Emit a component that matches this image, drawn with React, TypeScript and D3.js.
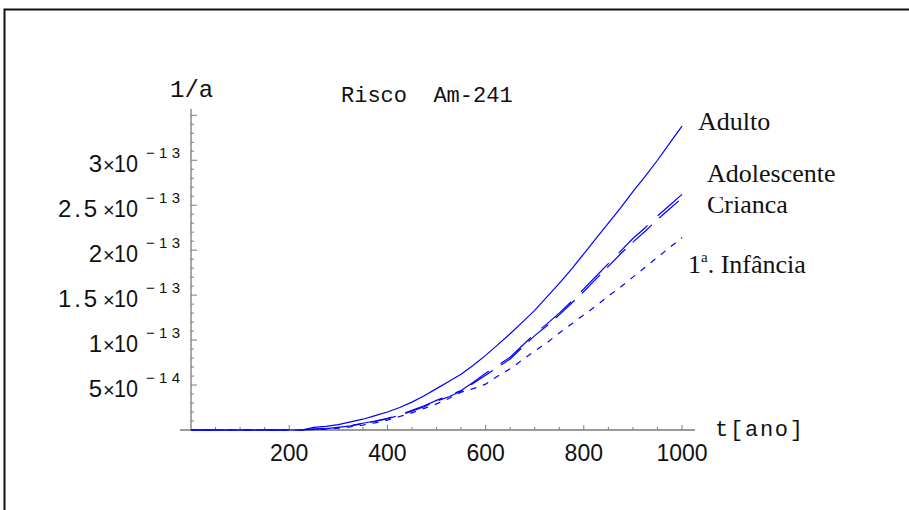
import React from "react";
import * as d3 from "d3";

// time (years)
const years = [0, 200, 225, 250, 275, 300, 325, 350, 375, 400, 425, 450, 475, 500, 525, 550, 575, 600, 625, 650, 675, 700, 725, 750, 775, 800, 825, 850, 875, 900, 925, 950, 975, 1000];
// risk values in units of 1e-14 per year
const adulto = [0, 0, 0, 0.3, 0.4, 0.6, 0.9, 1.2, 1.6, 2.0, 2.5, 3.1, 3.8, 4.6, 5.4, 6.2, 7.2, 8.3, 9.5, 10.7, 12.0, 13.3, 14.8, 16.3, 17.9, 19.6, 21.3, 23.0, 24.7, 26.5, 28.2, 30.0, 31.9, 33.8];
const adolescente = [0, 0, 0, 0.1, 0.15, 0.3, 0.5, 0.75, 1.0, 1.3, 1.7, 2.2, 2.7, 3.3, 3.8, 4.4, 5.3, 6.3, 7.2, 8.1, 9.4, 10.7, 11.8, 13.0, 14.3, 15.7, 17.1, 18.5, 19.9, 21.3, 22.5, 23.8, 25.0, 26.2];
const crianca = [0, 0, 0, 0.1, 0.15, 0.3, 0.45, 0.7, 0.95, 1.25, 1.65, 2.1, 2.6, 3.2, 3.7, 4.3, 5.2, 6.1, 7.0, 7.9, 9.2, 10.5, 11.6, 12.8, 14.1, 15.4, 16.8, 18.2, 19.6, 20.9, 22.1, 23.4, 24.6, 25.8];
const infancia = [0, 0, 0, 0.05, 0.1, 0.2, 0.35, 0.55, 0.8, 1.1, 1.5, 1.9, 2.4, 2.9, 3.5, 4.2, 4.6, 5.1, 6.0, 6.8, 7.8, 8.8, 9.7, 10.8, 11.8, 12.8, 13.8, 14.9, 15.9, 17.0, 18.1, 19.2, 20.3, 21.4];

const xTicks = [200, 400, 600, 800, 1000];
const xMinor = d3.range(50, 1001, 50);
const yTicks = [5, 10, 15, 20, 25, 30];
const yMantissa = ["5", "1", "1.5", "2", "2.5", "3"];
const yExponent = ["\u221214", "\u221213", "\u221213", "\u221213", "\u221213", "\u221213"];
const yMinor = d3.range(1, 36, 1);

const W = 909;
const H = 510;

export default function App() {
  const x = d3.scaleLinear().domain([0, 1000]).range([191, 682]);
  const y = d3.scaleLinear().domain([0, 35.7]).range([430, 109]);
  const mk = (vals: number[]) =>
    d3.line<number>()
      .x((_, i) => x(years[i]))
      .y((d) => y(d))
      .curve(d3.curveLinear)(vals) as string;

  const axisColor = "#7a7a7a";
  const blue = "#0000ff";
  const sans = "Liberation Sans, Arial, sans-serif";
  const mono = "Liberation Mono, Courier New, monospace";

  return (
    <svg width={W} height={H} style={{ position: "absolute", left: 0, top: 0, background: "#fff" }}>
      <defs>
        <clipPath id="critclip">
          <rect x={600} y={197} width={300} height={40} />
        </clipPath>
      </defs>
      {/* frame */}
      <rect x={4.5} y={9.5} width={1000} height={700} fill="none" stroke="#111" strokeWidth={2} />

      {/* axes */}
      <line x1={180} x2={695} y1={430} y2={430} stroke={axisColor} strokeWidth={1.3} />
      <line x1={191} x2={191} y1={109} y2={431} stroke={axisColor} strokeWidth={1.3} />
      {xMinor.map((t) => (
        <line key={"xm" + t} x1={x(t)} x2={x(t)} y1={430} y2={xTicks.includes(t) ? 425 : 427} stroke={axisColor} strokeWidth={1} />
      ))}
      {yMinor.map((v) => (
        <line key={"ym" + v} x1={191} x2={v % 5 === 0 ? 197 : 194} y1={y(v)} y2={y(v)} stroke={axisColor} strokeWidth={1} />
      ))}
      {xTicks.map((t) => (
        <text key={"xl" + t} x={x(t)} y={461} textAnchor="middle" fontFamily={sans} fontSize={23} fill="#111">
          {t}
        </text>
      ))}
      {yTicks.map((v, i) => {
        const dec = yMantissa[i].includes(".");
        return (
          <g key={"yl" + v} fontFamily={sans} fill="#111">
            {dec ? (
              <text x={58} y={y(v) + 11.5} fontSize={24} textLength={39} lengthAdjust="spacing">{yMantissa[i]}</text>
            ) : (
              <text x={102} y={y(v) + 11.5} textAnchor="end" fontSize={24}>{yMantissa[i]}</text>
            )}
            <text x={103} y={y(v) + 11.5} fontSize={20}>{"\u00d7"}</text>
            <text x={114} y={y(v) + 11.5} fontSize={24} textLength={24} lengthAdjust="spacingAndGlyphs">10</text>
            <text x={146} y={y(v) - 2.5} fontSize={15} textLength={34} lengthAdjust="spacing">{yExponent[i]}</text>
          </g>
        );
      })}

      {/* axis labels and title */}
      <text x={170} y={97} fontFamily={mono} fontSize={24} fill="#111">1/a</text>
      <text x={341} y={102} fontFamily={mono} fontSize={22} fill="#111" style={{ whiteSpace: "pre" }}>{"Risco  Am-241"}</text>
      <text x={715} y={436} fontFamily={mono} fontSize={22} fill="#111" textLength={88} lengthAdjust="spacing">t[ano]</text>

      {/* curves */}
      <path d={mk(infancia)} fill="none" stroke={blue} strokeWidth={1.2} strokeDasharray="6,7" />
      <path d={mk(crianca)} fill="none" stroke={blue} strokeWidth={1.2} strokeDasharray="26,10" />
      <path d={mk(adolescente)} fill="none" stroke={blue} strokeWidth={1.2} strokeDasharray="40,14" />
      <path d={mk(adulto)} fill="none" stroke={blue} strokeWidth={1.2} />

      {/* curve labels */}
      <g fontFamily="Liberation Serif, Times New Roman, serif" fontSize={26} fill="#111">
        <text x={698} y={130}>Adulto</text>
        <text x={707} y={182}>Adolescente</text>
        <text x={707} y={213} clipPath="url(#critclip)">Crianca</text>
        <text x={688} y={273}>
          1<tspan fontSize={15} dy={-11}>a</tspan><tspan dy={11}>. Infância</tspan>
        </text>
      </g>
    </svg>
  );
}
